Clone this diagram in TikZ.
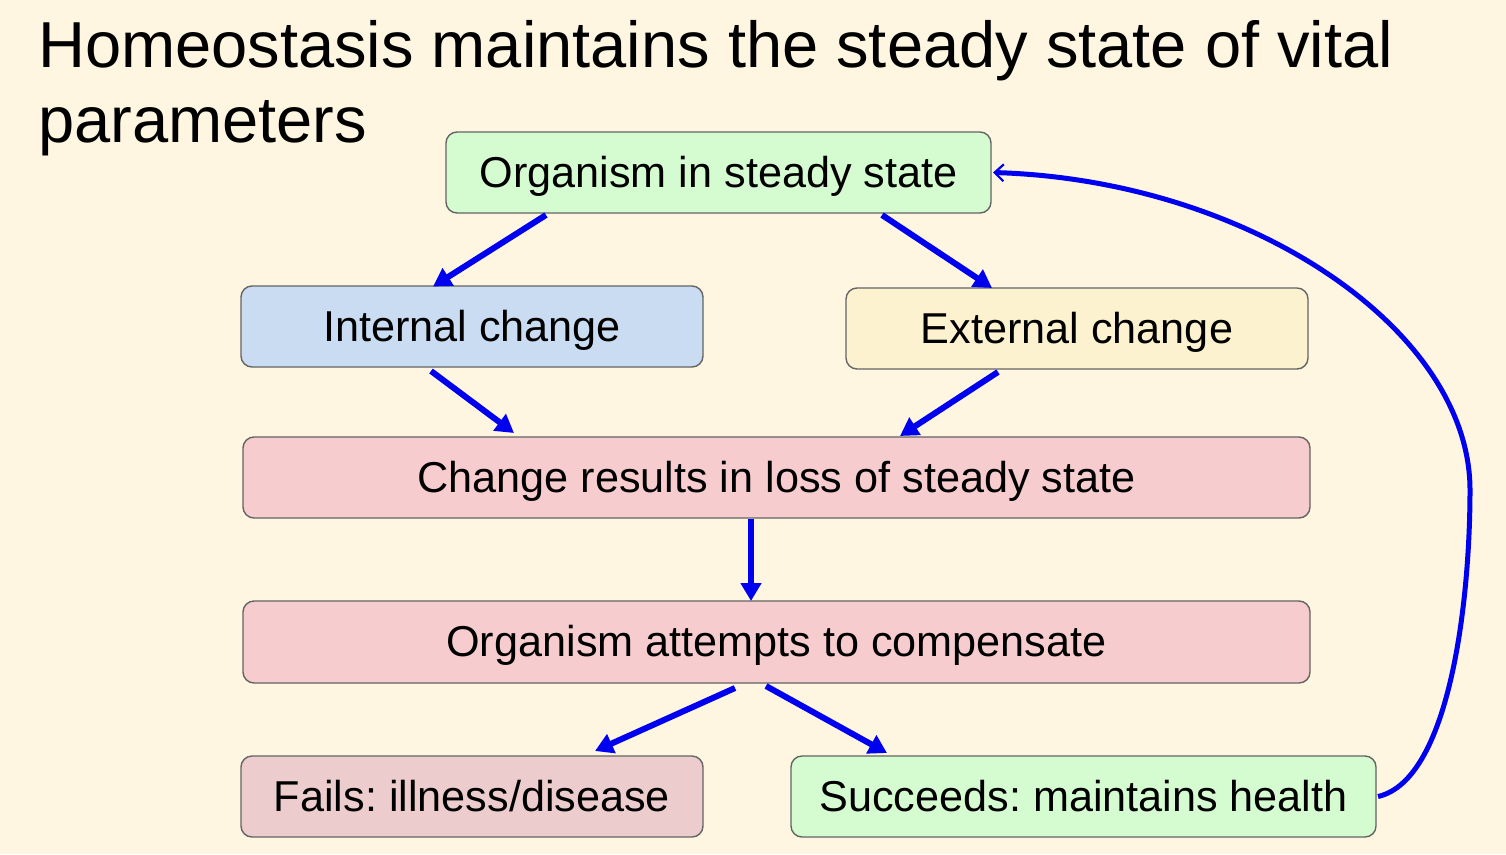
\documentclass[tikz,border=0pt]{standalone}
\usepackage{fontspec}
\setmainfont{Liberation Sans}
\frenchspacing
\usetikzlibrary{arrows.meta,calc}
\definecolor{bg}{RGB}{254,246,224}
\definecolor{gbox}{RGB}{213,252,208}
\definecolor{bbox}{RGB}{202,220,242}
\definecolor{ybox}{RGB}{253,242,207}
\definecolor{pbox}{RGB}{246,204,206}
\definecolor{fbox}{RGB}{236,204,204}
\definecolor{edge}{RGB}{100,100,100}
\definecolor{arr}{RGB}{0,0,240}
\tikzset{
  box/.style={draw=edge, line width=1.4pt, rounded corners=11pt, inner sep=0pt, outer sep=0pt,
    font=\fontsize{43.2}{50}\selectfont, text height=29pt, text depth=0pt},
  flow/.style={draw=arr, line width=6pt, -{Triangle[length=18pt,width=20pt]}},
  back/.style={draw=arr, line width=5pt, -{Straight Barb[length=9pt,width=17pt,line width=2.2pt]}},
  ttl/.style={anchor=base west, inner sep=0pt, font=\fontsize{65}{75}\selectfont}
}
\begin{document}
\begin{tikzpicture}[x=1pt,y=-1pt]
\fill[bg] (0,0) rectangle (1506,854);
\useasboundingbox (0,0) rectangle (1506,854);
\node[ttl] (t1) at (38,67) {Homeostasis maintains the steady state of vital};
\node[ttl] (t2) at (38,142) {parameters};

\node[box, fill=gbox, minimum width=545pt, minimum height=81pt] (org) at (718.5,172.5) {Organism in steady state};
\node[box, fill=bbox, minimum width=462pt, minimum height=81pt] (int) at (472,326.5) {Internal change};
\node[box, fill=ybox, minimum width=462pt, minimum height=81pt] (ext) at (1077,328.5) {External change};
\node[box, fill=pbox, minimum width=1067pt, minimum height=81pt] (chg) at (776.5,477.5) {Change results in loss of steady state};
\node[box, fill=pbox, minimum width=1067pt, minimum height=82pt] (att) at (776.5,642) {Organism attempts to compensate};
\node[box, fill=fbox, minimum width=462pt, minimum height=81pt] (fail) at (472,796.5) {Fails: illness/disease};
\node[box, fill=gbox, minimum width=585pt, minimum height=81pt] (succ) at (1083.5,796.5) {Succeeds: maintains health};

\draw[flow] ($(org.south)+(-172.5,2)$) -- ($(int.north)+(-39,0.5)$);
\draw[flow] ($(org.south)+(163.5,2)$) -- ($(ext.north)+(-85,0)$);
\draw[flow] ($(int.south)+(-41,4)$) -- ($(chg.north)+(-262.5,-4)$);
\draw[flow] ($(ext.south)+(-79,3)$) -- ($(chg.north)+(123.5,-1)$);
\draw[flow] ($(chg.south)+(-25.5,0.5)$) -- ($(att.north)+(-25.5,0)$);
\draw[flow] ($(att.south)+(-41.5,5)$) -- ($(fail.north)+(123,-5)$);
\draw[flow] ($(att.south)+(-10.5,3)$) -- ($(succ.north)+(-196.5,-3)$);

\coordinate (bend) at (1470,490);
\draw[back] ($(succ.east)+(2,0)$) .. controls (1450,780) and (1470,600) .. (bend)
  .. controls (1470,330) and (1250,180) .. ($(org.east)+(2,0)$);
\end{tikzpicture}
\end{document}
